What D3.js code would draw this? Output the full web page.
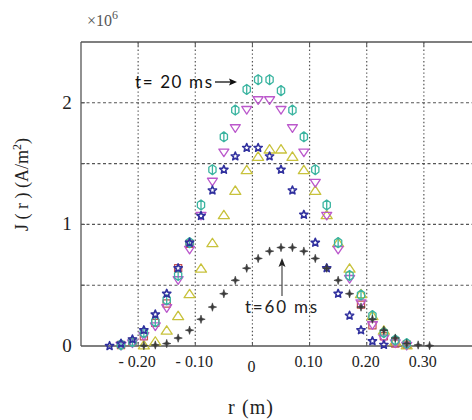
<!DOCTYPE html>
<html>
<head>
<meta charset="utf-8">
<script src="https://cdn.jsdelivr.net/npm/d3@7"></script>
<style>
  html, body { margin: 0; padding: 0; background: #fff; }
  svg { display: block; }
</style>
</head>
<body>
<svg id="chart" width="472" height="420"></svg>
<script>
// Radial positions (m) of the sampled points
const radius = [-0.25, -0.23, -0.21, -0.19, -0.17, -0.15, -0.13, -0.11, -0.09, -0.07,
                -0.05, -0.03, -0.01, 0.01, 0.03, 0.05, 0.07, 0.09, 0.11, 0.13,
                0.15, 0.17, 0.19, 0.21, 0.23, 0.25, 0.27, 0.29, 0.31];

// Current density J(r), in units of 10^6 A/m^2
const jTeal = [null, 0.01, 0.035, 0.11, 0.20, 0.38, 0.58, 0.85, 1.16, 1.45,
               1.72, 1.94, 2.11, 2.19, 2.19, 2.10, 1.94, 1.72, 1.45, 1.16,
               0.85, 0.58, 0.42, 0.25, 0.11, 0.05, 0.02, null, null];
const jMagenta = [null, 0.00, 0.02, 0.08, 0.16, 0.31, 0.54, 0.79, 1.07, 1.35,
                  1.59, 1.79, 1.94, 2.02, 2.02, 1.94, 1.79, 1.59, 1.34, 1.07,
                  0.79, 0.55, 0.35, 0.17, 0.06, 0.02, 0.00, null, null];
const jBlue = [0.00, 0.02, 0.055, 0.13, 0.26, 0.43, 0.64, 0.85, 1.07, 1.28,
               1.45, 1.56, 1.63, 1.63, 1.56, 1.45, 1.28, 1.08, 0.85, 0.64,
               0.43, 0.25, 0.13, 0.04, 0.01, null, null, null, null];
const jYellow = [null, null, null, 0.01, 0.04, 0.13, 0.25, 0.43, 0.64, 0.85,
                 1.08, 1.28, 1.45, 1.56, 1.62, 1.62, 1.56, 1.45, 1.28, 1.08,
                 0.85, 0.64, 0.43, 0.25, 0.13, 0.04, 0.01, null, null];
const jGray = [null, null, null, 0.003, 0.008, 0.02, 0.065, 0.13, 0.22, 0.32,
               0.43, 0.54, 0.64, 0.72, 0.78, 0.81, 0.81, 0.78, 0.72, 0.64,
               0.54, 0.43, 0.32, 0.22, 0.13, 0.065, 0.02, 0.008, 0.003];
const jRed = [null, 0.008, 0.035, 0.08, 0.19, 0.35, 0.64, 0.84, null, null,
              null, null, null, null, null, null, null, null, null, null,
              null, null, 0.34, 0.17, 0.08, 0.02, 0.01, null, null];

// Axis ticks and labels
const xTickValues = [-0.2, -0.1, 0, 0.1, 0.2, 0.3];
const xTickLabels = ["- 0.20", "- 0.10", "0", "0.10", "0.20", "0.30"];
const yGridValues = [0.5, 1, 1.5, 2];
const yTickValues = [0, 1, 2];
const yTickLabels = ["0", "1", "2"];

const svg = d3.select("#chart");
const x = d3.scaleLinear().domain([-0.3, 0.4]).range([81, 481]);
const y = d3.scaleLinear().domain([0, 2.5]).range([346, 42]);
const [x0] = x.range();
const [yb, yt] = y.range();
const xEnd = 472;

const serif = "'Liberation Serif', 'DejaVu Serif', serif";
const sans = "Lato, 'Open Sans', sans-serif";

// Grid: dotted verticals, dashed horizontals
svg.append("g").selectAll("line").data(xTickValues).join("line")
  .attr("x1", d => x(d)).attr("x2", d => x(d))
  .attr("y1", yt).attr("y2", yb)
  .attr("stroke", "#555").attr("stroke-width", 1.2)
  .attr("stroke-dasharray", "1.4,2.4");
svg.append("g").selectAll("line").data(yGridValues).join("line")
  .attr("x1", x0).attr("x2", xEnd)
  .attr("y1", d => y(d)).attr("y2", d => y(d))
  .attr("stroke", "#555").attr("stroke-width", 1.1)
  .attr("stroke-dasharray", "3,2.5");

// Frame
const frame = svg.append("g").attr("stroke", "#555").attr("stroke-width", 1.3);
frame.append("line").attr("x1", x0).attr("x2", x0).attr("y1", yt).attr("y2", yb);
frame.append("line").attr("x1", x0).attr("x2", xEnd).attr("y1", yb).attr("y2", yb);
frame.append("line").attr("x1", x0).attr("x2", xEnd).attr("y1", yt).attr("y2", yt);

// Inward tick marks
svg.append("g").selectAll("line").data(yGridValues).join("line")
  .attr("x1", x0).attr("x2", x0 + 4)
  .attr("y1", d => y(d)).attr("y2", d => y(d))
  .attr("stroke", "#555");
svg.append("g").selectAll("line").data(xTickValues).join("line")
  .attr("x1", d => x(d)).attr("x2", d => x(d))
  .attr("y1", yt).attr("y2", yt + 4)
  .attr("stroke", "#555");
svg.append("g").selectAll("line").data(xTickValues).join("line")
  .attr("x1", d => x(d)).attr("x2", d => x(d))
  .attr("y1", yb).attr("y2", yb - 4)
  .attr("stroke", "#555");

// Tick labels
svg.append("g").selectAll("text").data(xTickValues).join("text")
  .attr("x", d => x(d) - 1)
  .attr("y", (d, i) => xTickLabels[i] === "0" ? 372 : 367)
  .attr("text-anchor", "middle")
  .attr("font-family", serif).attr("font-size", 16).attr("fill", "#222")
  .text((d, i) => xTickLabels[i]);
svg.append("g").selectAll("text").data(yTickValues).join("text")
  .attr("x", 67).attr("y", d => y(d) + 6)
  .attr("text-anchor", "middle")
  .attr("font-family", serif).attr("font-size", 19).attr("fill", "#222")
  .text((d, i) => yTickLabels[i]);

// Exponent note
const expo = svg.append("text").attr("x", 87).attr("y", 26)
  .attr("font-family", serif).attr("font-size", 16).attr("fill", "#555");
expo.append("tspan").text("×10");
expo.append("tspan").attr("dy", -7).attr("font-size", 12).text("6");

// Axis titles
svg.append("text").attr("x", 228).attr("y", 414)
  .attr("font-family", serif).attr("font-size", 20).attr("fill", "#222")
  .attr("textLength", 45).attr("lengthAdjust", "spacing")
  .text("r (m)");
const yTitle = svg.append("text")
  .attr("transform", "translate(28,231) rotate(-90)")
  .attr("font-family", serif).attr("font-size", 18).attr("fill", "#222");
yTitle.append("tspan").text("J ( r )  (A/m");
yTitle.append("tspan").attr("dy", -7).attr("font-size", 12).text("2");
yTitle.append("tspan").attr("dy", 7).text(")");

// Marker shapes
function pentagram(ro, ri) {
  let p = "";
  for (let k = 0; k < 10; k++) {
    const r = k % 2 === 0 ? ro : ri;
    const a = -Math.PI / 2 + k * Math.PI / 5;
    p += (k === 0 ? "M" : "L") + (r * Math.cos(a)).toFixed(2) + "," + (r * Math.sin(a)).toFixed(2);
  }
  return p + "Z";
}
const shapes = {
  hexbar: "M0,-5L3.6,-2.4L3.6,2.4L0,5L-3.6,2.4L-3.6,-2.4ZM0,-5L0,5",
  down: "M-5,-3.6L5,-3.6L0,4Z",
  up: "M0,-4.4L5.5,4L-5.5,4Z",
  star: pentagram(4.3, 1.9),
  plus: "M0,-4.2L1,-1L4.2,0L1,1L0,4.2L-1,1L-4.2,0L-1,-1Z",
  square: "M-3.6,-3.6H3.6V3.6H-3.6Z"
};

const series = [
  { values: jRed, shape: "square", stroke: "#c25050", fill: "none", width: 1.2 },
  { values: jYellow, shape: "up", stroke: "#c8c23c", fill: "none", width: 1.3 },
  { values: jMagenta, shape: "down", stroke: "#bb58cc", fill: "none", width: 1.3 },
  { values: jTeal, shape: "hexbar", stroke: "#3ab4a0", fill: "none", width: 1.3 },
  { values: jBlue, shape: "star", stroke: "#30309e", fill: "none", width: 1.6 },
  { values: jGray, shape: "plus", stroke: "#3a3a3a", fill: "#3a3a3a", width: 0.6 }
];

series.forEach(s => {
  const pts = radius.map((r, i) => ({ r, j: s.values[i] })).filter(d => d.j !== null);
  svg.append("g").selectAll("path").data(pts).join("path")
    .attr("transform", d => `translate(${x(d.r)},${y(d.j)})`)
    .attr("d", shapes[s.shape])
    .attr("fill", s.fill)
    .attr("stroke", s.stroke)
    .attr("stroke-width", s.width)
    .attr("stroke-linejoin", "round");
});

// Annotations
svg.append("text").attr("x", 135).attr("y", 88)
  .attr("font-family", sans).attr("font-size", 17).attr("fill", "#111")
  .attr("textLength", 77).attr("lengthAdjust", "spacing")
  .text("t= 20 ms");
svg.append("line").attr("x1", 215).attr("x2", 231).attr("y1", 82).attr("y2", 82)
  .attr("stroke", "#111").attr("stroke-width", 1.3);
svg.append("path").attr("d", "M237,82L229,78.5L230.5,82L229,85.5Z").attr("fill", "#111");

svg.append("text").attr("x", 245).attr("y", 313)
  .attr("font-family", sans).attr("font-size", 17).attr("fill", "#222")
  .attr("textLength", 72).attr("lengthAdjust", "spacing")
  .text("t=60 ms");
svg.append("line").attr("x1", 282).attr("x2", 282).attr("y1", 296).attr("y2", 265)
  .attr("stroke", "#555").attr("stroke-width", 1.3);
svg.append("path").attr("d", "M282,258L278.5,267L282,265L285.5,267Z").attr("fill", "#222");
</script>
</body>
</html>
